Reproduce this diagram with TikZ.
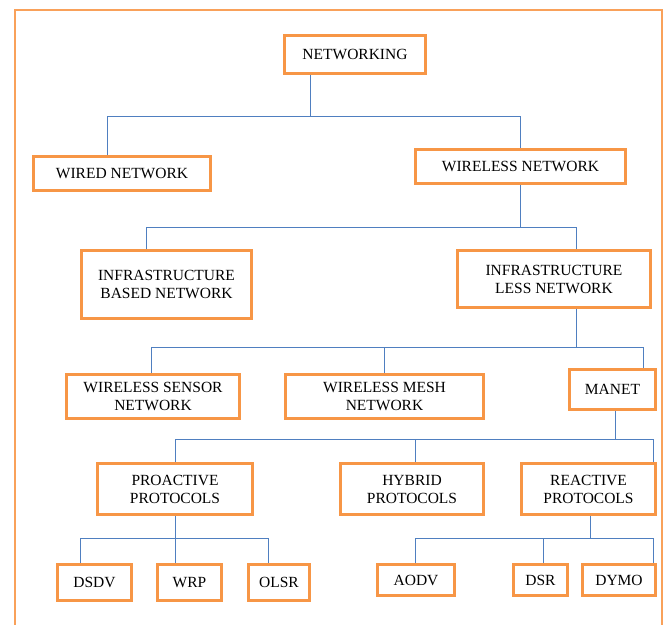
\documentclass[tikz,border=0pt]{standalone}
\usepackage{fontspec}
\setmainfont{Liberation Serif}
\definecolor{boxor}{HTML}{F79646}
\definecolor{frameor}{HTML}{F9A15A}
\definecolor{linkblue}{HTML}{4F7FC0}
\tikzset{
  nbox/.style 2 args={draw=boxor, line width=2.6pt, fill=white, align=center,
    inner sep=0pt, minimum width=#1, minimum height=#2,
    font=\fontsize{15.5}{18}\selectfont},
  conn/.style={draw=linkblue, line width=1pt}
}
\begin{document}
\begin{tikzpicture}[x=1pt,y=-1pt]
\useasboundingbox (0,0) rectangle (668,624);
\fill[white] (0,0) rectangle (668,624);
\begin{scope}
\clip (0,0) rectangle (668,624);
\draw[frameor, line width=2.4pt] (15,10) rectangle (662,650);
\end{scope}

% nodes
\node[nbox={141pt}{38pt}] (networking) at (355,54.5) {NETWORKING};
\node[nbox={177pt}{34pt}] (wired) at (122,173.5) {WIRED NETWORK};
\node[nbox={210pt}{34pt}] (wireless) at (520.5,166.5) {WIRELESS NETWORK};
\node[nbox={170pt}{68pt}] (infrabased) at (166.5,284.5) {INFRASTRUCTURE\\BASED NETWORK};
\node[nbox={193pt}{57pt}] (infraless) at (554,279) {INFRASTRUCTURE\\LESS NETWORK};
\node[nbox={173pt}{44pt}] (wsn) at (153,396.5) {WIRELESS SENSOR\\NETWORK};
\node[nbox={198pt}{44pt}] (wmn) at (384.5,396.5) {WIRELESS MESH\\NETWORK};
\node[nbox={86pt}{40pt}] (manet) at (612.5,389.5) {MANET};
\node[nbox={155pt}{51pt}] (proactive) at (175,489) {PROACTIVE\\PROTOCOLS};
\node[nbox={143pt}{51pt}] (hybrid) at (412,489) {HYBRID\\PROTOCOLS};
\node[nbox={134pt}{51pt}] (reactive) at (588.5,489) {REACTIVE\\PROTOCOLS};
\node[nbox={74pt}{36pt}] (dsdv) at (94.5,582.5) {DSDV};
\node[nbox={64pt}{36pt}] (wrp) at (189.5,582.5) {WRP};
\node[nbox={61pt}{36pt}] (olsr) at (279,582.5) {OLSR};
\node[nbox={77pt}{31pt}] (aodv) at (416,580) {AODV};
\node[nbox={54pt}{31pt}] (dsr) at (540.5,580) {DSR};
\node[nbox={73pt}{31pt}] (dymo) at (619,580) {DYMO};

% bus coordinates
\coordinate (a1) at (107,116);
\coordinate (a2) at (310,116);
\coordinate (a3) at (520,116);
\coordinate (b1) at (146,227);
\coordinate (b2) at (520,227);
\coordinate (b3) at (576,227);
\coordinate (c1) at (151,347);
\coordinate (c2) at (384,347);
\coordinate (c3) at (576,347);
\coordinate (c4) at (643,347);
\coordinate (d1) at (175,439);
\coordinate (d2) at (415,439);
\coordinate (d3) at (615,439);
\coordinate (d4) at (653,439);
\coordinate (e1) at (80,538);
\coordinate (e2) at (175,538);
\coordinate (e3) at (268,538);
\coordinate (f1) at (415,538);
\coordinate (f2) at (543,538);
\coordinate (f3) at (590,538);
\coordinate (f4) at (653,538);

\begin{scope}[on background layer/.style={}]
% level 1
\draw[conn] (networking.south -| a2) -- (a2);
\draw[conn] (wired.north -| a1) -- (a1) -- (a3) -- (wireless.north -| a3);
% level 2
\draw[conn] (wireless.south -| b2) -- (b2);
\draw[conn] (infrabased.north -| b1) -- (b1) -- (b3) -- (infraless.north -| b3);
% level 3
\draw[conn] (infraless.south -| c3) -- (c3);
\draw[conn] (wsn.north -| c1) -- (c1) -- (c4) -- (manet.north -| c4);
\draw[conn] (c2) -- (wmn.north -| c2);
% level 4
\draw[conn] (manet.south -| d3) -- (d3);
\draw[conn] (proactive.north -| d1) -- (d1) -- (d4) -- (reactive.north -| d4);
\draw[conn] (d2) -- (hybrid.north -| d2);
% level 5a
\draw[conn] (proactive.south -| e2) -- (e2);
\draw[conn] (dsdv.north -| e1) -- (e1) -- (e3) -- (olsr.north -| e3);
\draw[conn] (e2) -- (wrp.north -| e2);
% level 5b
\draw[conn] (reactive.south -| f3) -- (f3);
\draw[conn] (aodv.north -| f1) -- (f1) -- (f4) -- (dymo.north -| f4);
\draw[conn] (f2) -- (dsr.north -| f2);
\end{scope}
\end{tikzpicture}
\end{document}
